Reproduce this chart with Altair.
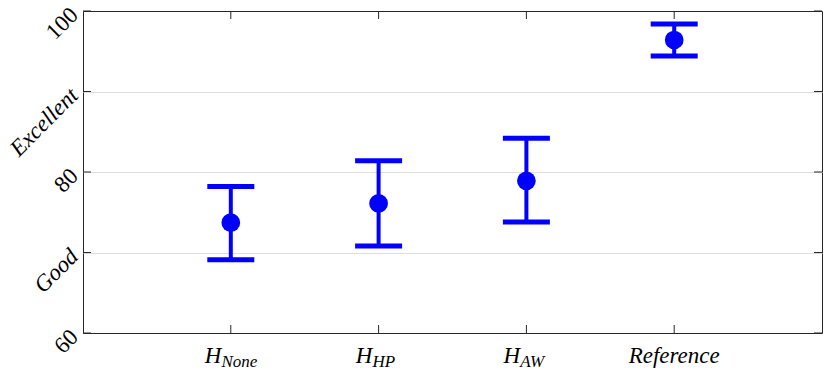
import altair as alt
import pandas as pd

# ---- data ----
categories = ["H", "H", "H", "Reference"]
subscripts = ["None", "HP", "AW", ""]
means = [73.7, 76.1, 78.9, 96.4]
upper = [78.2, 81.4, 84.2, 98.4]
lower = [69.1, 70.8, 73.8, 94.4]
ytick_values = [60, 70, 80, 90, 100]
ytick_labels = ["60", "Good", "80", "Excellent", "100"]
italic_labels = ["Good", "Excellent"]

W, H = 739, 322
XMAX = 5
BLUE = "#0000ff"
FRAME = "#262626"
FONT = "Liberation Serif"

pos = list(range(1, len(categories) + 1))
px_per_unit = W / XMAX
df = pd.DataFrame({"pos": pos, "mean": means, "lo": lower, "hi": upper,
                   "main": categories, "sub": subscripts})
# junction between main letter and subscript, shifted so the pair is centred
df["xj"] = [p - (3 + 1.6 * len(s)) / px_per_unit if s else p
            for p, s in zip(pos, subscripts)]
ydf = pd.DataFrame({"v": ytick_values})

xscale = alt.Scale(domain=[0, XMAX], nice=False, zero=False)
yscale = alt.Scale(domain=[60, 100], nice=False, zero=False)

label_expr = "datum.label"
for v, l in zip(ytick_values, ytick_labels):
    label_expr = f"datum.value == {v} ? '{l}' : ({label_expr})"
italic_test = " || ".join(
    f"datum.value == {v}" for v, l in zip(ytick_values, ytick_labels) if l in italic_labels)
edge_test = f"datum.value == {min(ytick_values)} || datum.value == {max(ytick_values)}"

yaxis = alt.Axis(
    values=ytick_values, labelExpr=label_expr, labelAngle=315,
    labelAlign="right", labelBaseline="middle", labelFont=FONT,
    labelFontSize=23, labelColor="black", labelPadding=9,
    labelFontStyle={"condition": {"test": italic_test, "value": "italic"}, "value": "normal"},
    gridColor={"condition": {"test": edge_test, "value": "transparent"}, "value": "#dedede"},
    grid=True, ticks=False, domain=False, title=None,
)

base = alt.Chart(df)

bars = base.mark_rule(color=BLUE, strokeWidth=4).encode(
    x=alt.X("pos:Q", scale=xscale, axis=None),
    y=alt.Y("lo:Q", scale=yscale, axis=yaxis),
    y2="hi:Q",
)
cap_lo = base.mark_tick(color=BLUE, orient="horizontal", size=47, thickness=5, opacity=1).encode(
    x=alt.X("pos:Q", scale=xscale), y=alt.Y("lo:Q", scale=yscale))
cap_hi = base.mark_tick(color=BLUE, orient="horizontal", size=47, thickness=5, opacity=1).encode(
    x=alt.X("pos:Q", scale=xscale), y=alt.Y("hi:Q", scale=yscale))
points = base.mark_circle(color=BLUE, size=350, opacity=1).encode(
    x=alt.X("pos:Q", scale=xscale), y=alt.Y("mean:Q", scale=yscale))

# inward ticks on all four sides
tk = dict(color=FRAME, strokeWidth=1)
left_t = alt.Chart(ydf).mark_rule(**tk).encode(
    y=alt.Y("v:Q", scale=yscale), x=alt.value(0), x2=alt.value(8))
right_t = alt.Chart(ydf).mark_rule(**tk).encode(
    y=alt.Y("v:Q", scale=yscale), x=alt.value(W - 8), x2=alt.value(W))
bot_t = base.mark_rule(**tk).encode(
    x=alt.X("pos:Q", scale=xscale), y=alt.value(H), y2=alt.value(H - 8))
top_t = base.mark_rule(**tk).encode(
    x=alt.X("pos:Q", scale=xscale), y=alt.value(0), y2=alt.value(8))

# category labels (with subscripts)
lab_main = base.transform_filter("datum.sub != ''").mark_text(
    font=FONT, fontSize=23, fontStyle="italic", align="right", baseline="alphabetic", color="black"
).encode(x=alt.X("xj:Q", scale=xscale), y=alt.value(H + 30), text="main:N")
lab_sub = base.transform_filter("datum.sub != ''").mark_text(
    font=FONT, fontSize=17, fontStyle="italic", align="left", baseline="alphabetic", color="black"
).encode(x=alt.X("xj:Q", scale=xscale), y=alt.value(H + 34), text="sub:N")
lab_ref = base.transform_filter("datum.sub == ''").mark_text(
    font=FONT, fontSize=23, fontStyle="italic", align="center", baseline="alphabetic", color="black"
).encode(x=alt.X("pos:Q", scale=xscale), y=alt.value(H + 30), text="main:N")

chart = alt.layer(
    bars, left_t, right_t, bot_t, top_t, cap_lo, cap_hi, points, lab_main, lab_sub, lab_ref
).properties(
    width=W, height=H,
    padding={"left": 75, "top": 3, "right": 1, "bottom": 40},
    autosize=alt.AutoSizeParams(type="none"),
).configure_view(stroke=FRAME, strokeWidth=1)

chart.save("out.html", embed_options={"renderer": "svg", "actions": False})
